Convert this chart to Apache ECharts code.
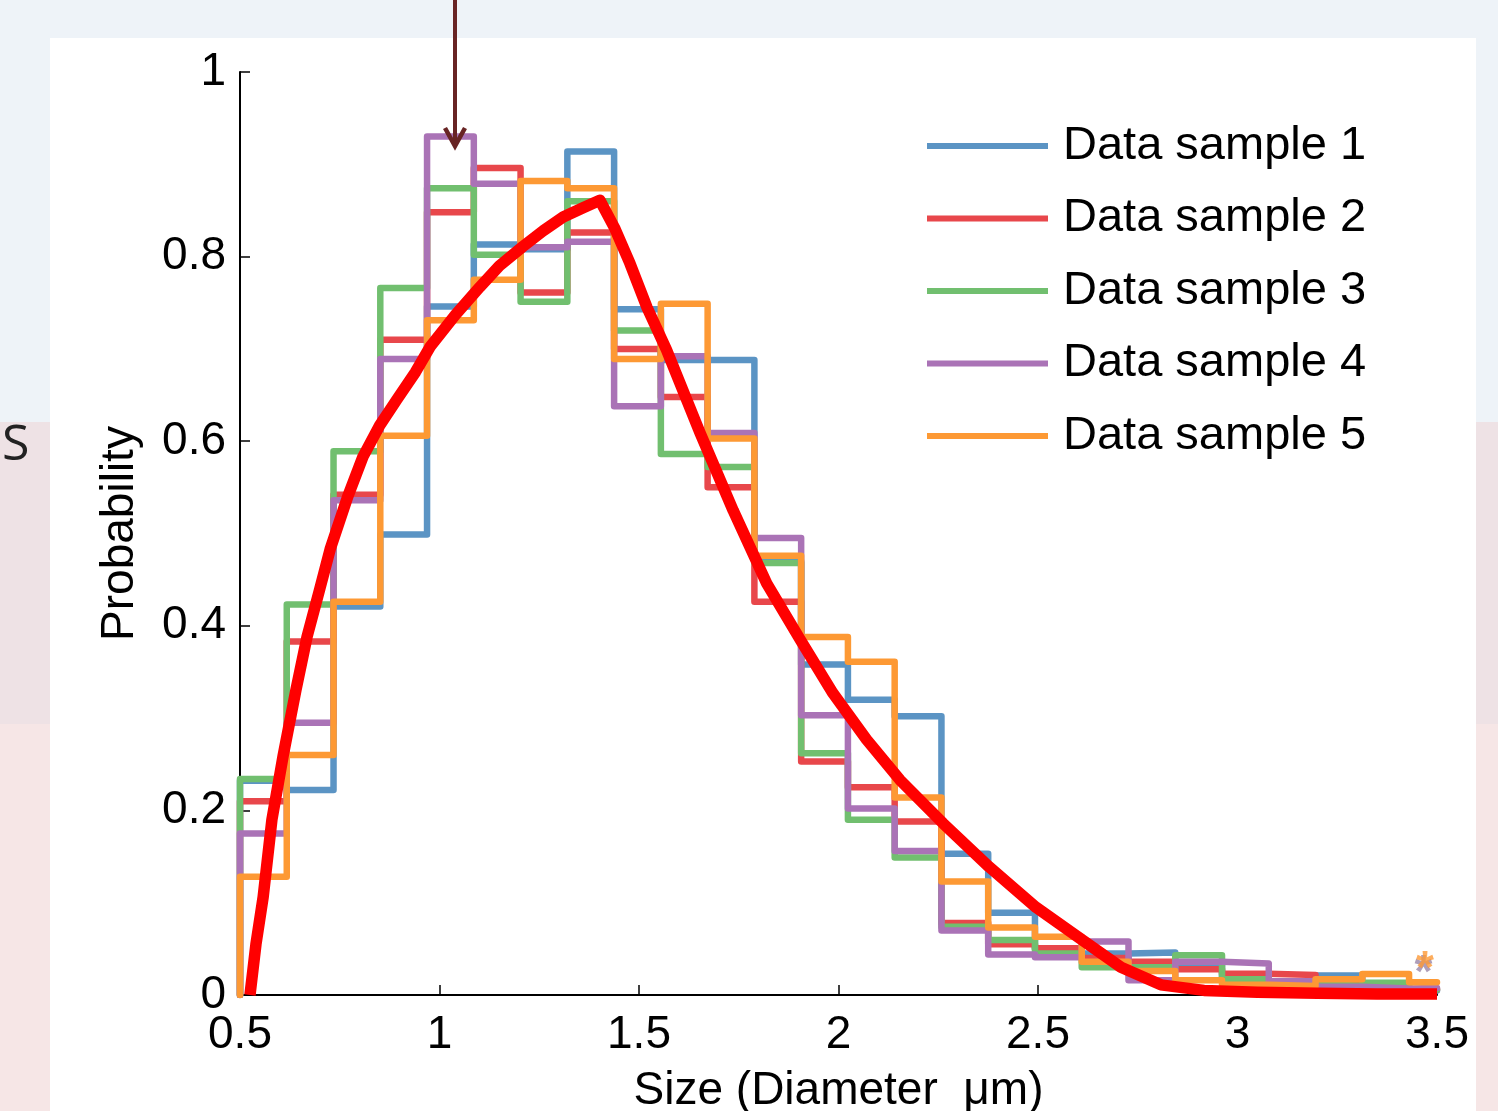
<!DOCTYPE html>
<html>
<head>
<meta charset="utf-8">
<script src="https://cdn.jsdelivr.net/npm/echarts@6/dist/echarts.min.js"></script>
<style>
  html, body { margin: 0; padding: 0; background: #eef3f8; }
  #chart { width: 1498px; height: 1111px; }
</style>
</head>
<body>
<div id="chart"></div>
<script>
// ---- Data ----
const seriesNames = ['Data sample 1', 'Data sample 2', 'Data sample 3', 'Data sample 4', 'Data sample 5'];
const seriesColors = ['#5b94c4', '#e8474b', '#71bf6f', '#aa73b6', '#fd9934'];

// histogram bin edges (µm); last edge clipped at axis max
const binEdges = [0.5, 0.6172, 0.7344, 0.8516, 0.9688, 1.086, 1.2032, 1.3204, 1.4376, 1.5548,
  1.672, 1.7892, 1.9064, 2.0236, 2.1408, 2.258, 2.3752, 2.4924, 2.6096, 2.7268,
  2.844, 2.9612, 3.0784, 3.1956, 3.3128, 3.43, 3.5];

const sample1 = [0.232, 0.222, 0.421, 0.499, 0.746, 0.813, 0.808, 0.914, 0.743, 0.688, 0.688, 0.470, 0.358,
  0.320, 0.302, 0.153, 0.089, 0.050, 0.045, 0.046, 0.034, 0.020, 0.015, 0.021, 0.010, 0.005];
const sample2 = [0.210, 0.383, 0.542, 0.710, 0.848, 0.896, 0.761, 0.826, 0.700, 0.648, 0.550, 0.426, 0.253,
  0.225, 0.188, 0.078, 0.055, 0.0506, 0.040, 0.036, 0.028, 0.023, 0.0217, 0.012, 0.010, 0.006];
const sample3 = [0.234, 0.423, 0.589, 0.766, 0.874, 0.802, 0.751, 0.860, 0.720, 0.586, 0.572, 0.468, 0.262,
  0.190, 0.149, 0.074, 0.0596, 0.045, 0.030, 0.030, 0.043, 0.017, 0.012, 0.010, 0.0134, 0.006];
const sample4 = [0.175, 0.295, 0.536, 0.689, 0.930, 0.879, 0.810, 0.816, 0.638, 0.692, 0.609, 0.495, 0.303,
  0.202, 0.156, 0.070, 0.044, 0.041, 0.058, 0.016, 0.036, 0.034, 0.015, 0.009, 0.007, 0.0076];
const sample5 = [0.128, 0.260, 0.426, 0.606, 0.731, 0.775, 0.882, 0.874, 0.689, 0.749, 0.603, 0.476, 0.388,
  0.361, 0.214, 0.123, 0.073, 0.063, 0.036, 0.026, 0.016, 0.011, 0.0098, 0.017, 0.0227, 0.0137];

// fitted distribution (red curve)
const fitX = [0.525, 0.54, 0.558, 0.58, 0.608, 0.64, 0.668, 0.7, 0.726, 0.77, 0.808, 0.85, 0.893, 0.94, 0.976,
  1.04, 1.101, 1.15, 1.209, 1.26, 1.31, 1.36, 1.402, 1.44, 1.477, 1.52, 1.569, 1.61, 1.653, 1.736, 1.82,
  1.904, 1.986, 2.07, 2.154, 2.262, 2.377, 2.495, 2.603, 2.708, 2.808, 2.916, 3.05, 3.2, 3.35, 3.5];
const fitY = [0, 0.055, 0.106, 0.19, 0.259, 0.33, 0.388, 0.44, 0.483, 0.54, 0.583, 0.617, 0.645, 0.675, 0.702,
  0.737, 0.767, 0.79, 0.811, 0.828, 0.843, 0.853, 0.861, 0.83, 0.793, 0.745, 0.699, 0.655, 0.609, 0.525, 0.446,
  0.385, 0.327, 0.277, 0.233, 0.186, 0.139, 0.095, 0.062, 0.030, 0.011, 0.005, 0.003, 0.002, 0.001, 0.001];

// outlier markers at right edge
const markerPoints = [[3.466, 0.036], [3.47, 0.041]];
const markerColors = ['#9a86a8', '#fd9934'];

const xTicks = { min: 0.5, max: 3.5, interval: 0.5 };
const yTicks = { min: 0, max: 1, interval: 0.2 };

// ---- Build ----
const samples = [sample1, sample2, sample3, sample4, sample5];
function histPoints(vals) {
  const pts = [[binEdges[0], 0]];
  for (let k = 0; k < vals.length; k++) {
    pts.push([binEdges[k], vals[k]]);
    pts.push([binEdges[k + 1], vals[k]]);
  }
  return pts;
}

const FONT = '"Liberation Sans", Arial, Helvetica, sans-serif';

const series = samples.map((vals, i) => ({
  name: seriesNames[i],
  type: 'line',
  data: histPoints(vals),
  showSymbol: false,
  symbol: 'none',
  color: seriesColors[i],
  lineStyle: { color: seriesColors[i], width: 6.5, join: 'round', cap: 'round' },
  emphasis: { disabled: true },
  z: 3 + i
}));

series.push({
  name: 'fit',
  type: 'line',
  data: fitX.map((x, i) => [x, fitY[i]]),
  showSymbol: false,
  symbol: 'none',
  lineStyle: { color: '#ff0000', width: 11.5, join: 'round', cap: 'butt' },
  emphasis: { disabled: true },
  z: 20
});

markerPoints.forEach((p, i) => {
  series.push({
    name: 'marker' + i,
    type: 'scatter',
    data: [p],
    symbolSize: 1,
    itemStyle: { color: 'rgba(0,0,0,0)' },
    label: { show: true, position: 'inside', formatter: '*', color: markerColors[i],
      fontSize: 46, fontFamily: FONT, fontWeight: 'bold', offset: [0, 13] },
    emphasis: { disabled: true },
    z: 21 + i
  });
});

const chart = echarts.init(document.getElementById('chart'), null, { renderer: 'canvas' });
chart.setOption({
  animation: false,
  backgroundColor: '#eef3f8',
  graphic: [
    { type: 'rect', shape: { x: 0, y: 422, width: 1498, height: 302 }, style: { fill: '#eee2e5' }, z: -10, silent: true },
    { type: 'rect', shape: { x: 0, y: 724, width: 1498, height: 387 }, style: { fill: '#f6e6e6' }, z: -10, silent: true },
    { type: 'rect', shape: { x: 50, y: 38, width: 1426, height: 1073 }, style: { fill: '#ffffff' }, z: -9, silent: true },
    { type: 'text', left: 2, top: 421, style: { text: 'S', fontSize: 50, fontFamily: '"Open Sans", sans-serif', fill: '#222' }, z: -8, silent: true },
    { type: 'line', shape: { x1: 455, y1: 0, x2: 455, y2: 144 }, style: { stroke: '#682424', lineWidth: 4 }, z: 100, silent: true },
    { type: 'polyline', shape: { points: [[445, 128], [455, 146], [465, 128]] }, style: { stroke: '#682424', lineWidth: 4.5, fill: null }, z: 100, silent: true }
  ],
  grid: { left: 240, right: 61, top: 72, bottom: 116, containLabel: false, outerBoundsMode: 'none' },
  legend: {
    orient: 'vertical',
    left: 927,
    top: 121,
    padding: 0,
    data: seriesNames,
    icon: 'rect',
    itemWidth: 121,
    itemHeight: 6,
    itemGap: 22.5,
    selectedMode: false,
    textStyle: { fontSize: 47, fontFamily: FONT, color: '#000', lineHeight: 50, padding: [0, 0, 0, 10] }
  },
  xAxis: {
    type: 'value',
    min: xTicks.min, max: xTicks.max, interval: xTicks.interval,
    name: 'Size (Diameter  \u03bcm)',
    nameLocation: 'middle',
    nameGap: 73,
    nameTextStyle: { fontSize: 46, fontFamily: FONT, color: '#000' },
    axisLine: { lineStyle: { color: '#000', width: 2 } },
    axisTick: { inside: true, length: 10, lineStyle: { color: '#000', width: 1.5 } },
    axisLabel: { fontSize: 46, fontFamily: FONT, color: '#000', margin: 17,
      formatter: v => String(Math.round(v * 10) / 10) },
    splitLine: { show: false }
  },
  yAxis: {
    type: 'value',
    min: yTicks.min, max: yTicks.max, interval: yTicks.interval,
    name: 'Probability',
    nameLocation: 'middle',
    nameGap: 97,
    nameTextStyle: { fontSize: 46, fontFamily: FONT, color: '#000' },
    axisLine: { show: true, lineStyle: { color: '#000', width: 2 } },
    axisTick: { show: true, inside: true, length: 10, lineStyle: { color: '#000', width: 1.5 } },
    axisLabel: { fontSize: 46, fontFamily: FONT, color: '#000', margin: 14,
      formatter: v => String(Math.round(v * 10) / 10) },
    splitLine: { show: false }
  },
  series: series
});
</script>
</body>
</html>
